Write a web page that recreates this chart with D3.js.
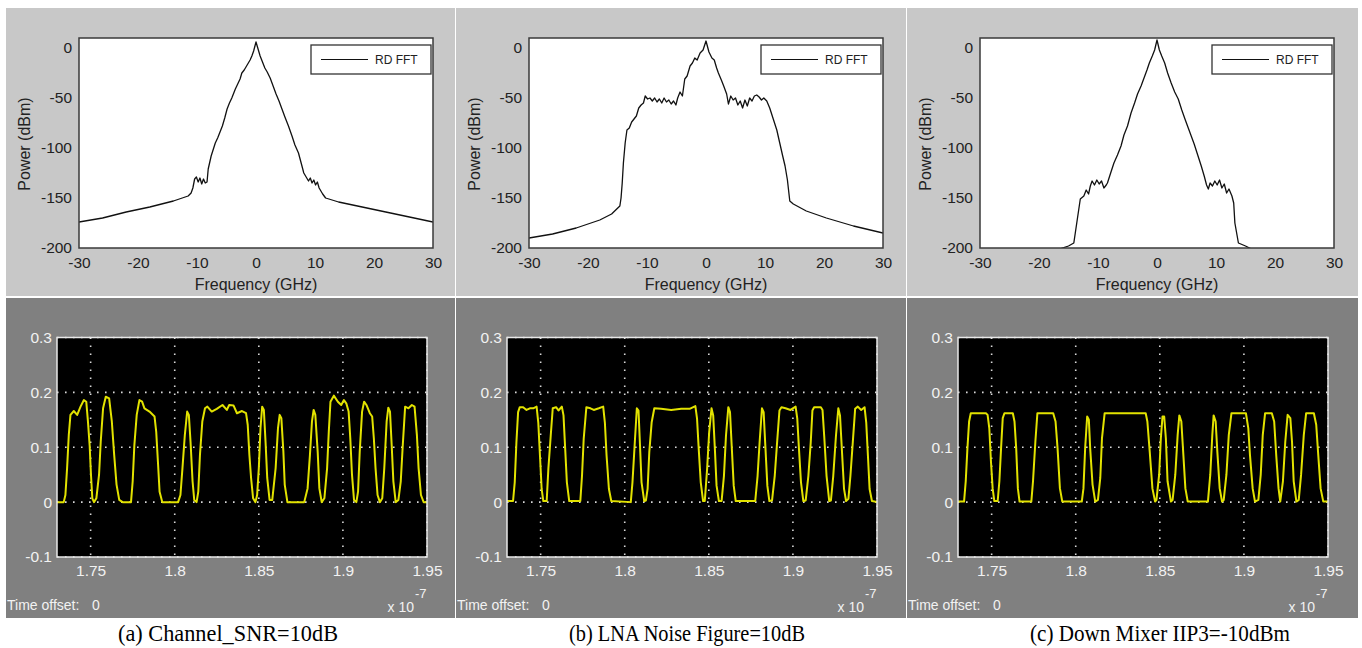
<!DOCTYPE html>
<html>
<head>
<meta charset="utf-8">
<title>RF front-end spectra and eye signals</title>
<script src="https://d3js.org/d3.v7.min.js"></script>
<style>
  body { margin: 0; background: #fff; }
  svg text { font-family: "Liberation Sans", Arial, sans-serif; }
  .caption { font-family: "Liberation Serif", "Times New Roman", serif !important; }
</style>
</head>
<body>
<svg id="fig" width="1362" height="648"></svg>
<script>
// ---- data ----
const freqTicks = [-30, -20, -10, 0, 10, 20, 30];
const powerTicks = [0, -50, -100, -150, -200];
const timeTicks = [1.75, 1.8, 1.85, 1.9, 1.95];
const ampTicks = [0.3, 0.2, 0.1, 0, -0.1];
const captions = ["(a) Channel_SNR=10dB", "(b) LNA Noise Figure=10dB", "(c) Down Mixer IIP3=-10dBm"];
const legendLabel = "RD FFT";

// spectra: [frequency GHz, power dBm]
const spectrumSNR = [[-30,-174],[-26,-170],[-22,-164],[-18,-159],[-14,-153],[-12,-149],[-11.5,-148],[-11,-145],[-10.7,-140],[-10.4,-131],[-10.1,-129],[-9.8,-134],[-9.5,-130],[-9.2,-136],[-8.9,-131],[-8.6,-135],[-8.3,-134],[-8.1,-121],[-7.6,-108],[-6.9,-95],[-6.5,-90],[-6.1,-84],[-5.7,-78],[-5.3,-70],[-4.9,-61],[-4.5,-55],[-4.1,-50],[-3.5,-41],[-3.1,-36],[-2.7,-31],[-2.4,-25],[-2.0,-22],[-1.6,-18],[-1.3,-15],[-1.0,-12],[-0.7,-8],[-0.4,-3],[0,6],[0.4,-2],[0.7,-8],[1.1,-14],[1.5,-20],[1.9,-24],[2.4,-30],[2.9,-38],[3.4,-46],[3.9,-53],[4.4,-61],[4.9,-69],[5.5,-78],[6.1,-88],[6.6,-97],[7.2,-105],[7.7,-116],[8.1,-125],[8.5,-129],[8.9,-133],[9.2,-130],[9.5,-135],[9.8,-132],[10.1,-137],[10.4,-134],[10.7,-140],[11.0,-143],[11.3,-146],[11.8,-150],[14,-154],[18,-159],[22,-164],[26,-169],[30,-174]];
const spectrumLNA = [[-30,-190],[-26,-186],[-22,-180],[-18,-172],[-16,-166],[-14.6,-158],[-14.4,-150],[-14.2,-135],[-14.0,-115],[-13.7,-95],[-13.4,-82],[-13.0,-80],[-12.6,-74],[-12.2,-71],[-11.8,-68],[-11.4,-60],[-11.0,-57],[-10.6,-55],[-10.3,-48],[-9.9,-51],[-9.5,-50],[-9.1,-53],[-8.7,-50],[-8.3,-54],[-7.9,-51],[-7.5,-55],[-7.1,-50],[-6.7,-54],[-6.3,-52],[-5.9,-56],[-5.5,-53],[-5.1,-57],[-4.8,-50],[-4.4,-44],[-4.0,-48],[-3.6,-31],[-3.2,-28],[-2.7,-18],[-2.3,-15],[-1.9,-10],[-1.5,-12],[-1.0,-5],[-0.5,-2],[0,7],[0.5,-4],[1.0,-10],[1.4,-12],[1.8,-20],[2.1,-25],[2.6,-32],[3.0,-38],[3.5,-46],[3.8,-56],[4.2,-48],[4.6,-52],[5.0,-50],[5.4,-57],[5.8,-53],[6.2,-60],[6.6,-52],[7.0,-58],[7.4,-50],[7.8,-53],[8.2,-48],[8.6,-47],[9.0,-49],[9.4,-52],[9.8,-50],[10.3,-53],[10.8,-60],[11.4,-71],[12.0,-82],[12.5,-95],[13.0,-108],[13.4,-118],[13.8,-132],[14.2,-153],[14.8,-156],[17,-163],[20.4,-170],[25,-178],[30,-185]];
const spectrumIIP3 = [[-16.5,-201],[-15,-198],[-14.1,-195],[-13.6,-175],[-13.0,-151],[-12.4,-148],[-12.0,-142],[-11.6,-146],[-11.3,-138],[-11.0,-133],[-10.6,-137],[-10.2,-132],[-9.8,-136],[-9.4,-133],[-9.0,-140],[-8.6,-137],[-8.4,-135],[-7.8,-124],[-7.3,-115],[-6.7,-107],[-6.1,-98],[-5.6,-87],[-5.0,-78],[-4.4,-65],[-3.8,-55],[-3.3,-46],[-2.7,-38],[-2.2,-30],[-1.7,-22],[-1.3,-15],[-0.8,-8],[-0.4,-2],[0,8],[0.4,-2],[0.8,-8],[1.3,-15],[1.8,-25],[2.4,-35],[3.0,-44],[3.6,-51],[4.2,-62],[4.8,-72],[5.3,-80],[5.8,-88],[6.3,-96],[6.9,-107],[7.5,-118],[8.0,-128],[8.4,-137],[8.7,-141],[9.0,-135],[9.4,-138],[9.8,-133],[10.2,-137],[10.6,-132],[11.0,-140],[11.4,-136],[11.8,-145],[12.2,-141],[12.7,-148],[13.0,-155],[13.2,-175],[13.8,-195],[15.0,-198],[16.0,-201]];

// scope traces: [time x1e-7 s, amplitude]
const scopeSNR = [[1.729,0],[1.734,0],[1.735,0.013],[1.736,0.062],[1.737,0.122],[1.738,0.159],[1.740,0.166],[1.742,0.159],[1.744,0.174],[1.746,0.186],[1.7474,0.183],[1.7484,0.147],[1.7494,0.104],[1.7502,0.050],[1.751,0.007],[1.752,0],[1.7534,0.007],
  [1.755,0.050],[1.756,0.110],[1.7574,0.171],[1.759,0.192],[1.761,0.189],[1.7626,0.147],[1.764,0.086],[1.7654,0.032],[1.767,0.004],[1.769,0],[1.774,0],
  [1.775,0.038],[1.776,0.104],[1.7774,0.159],[1.779,0.186],[1.7806,0.183],[1.782,0.171],[1.785,0.165],[1.788,0.156],[1.789,0.128],[1.790,0.074],[1.791,0.019],[1.7926,0],[1.802,0],
  [1.8034,0.013],[1.8046,0.062],[1.806,0.122],[1.8074,0.165],[1.8084,0.159],[1.8094,0.110],[1.8106,0.038],[1.8116,0.004],[1.813,0],[1.814,0.019],
  [1.815,0.086],[1.8164,0.147],[1.818,0.171],[1.8194,0.174],[1.822,0.165],[1.825,0.170],[1.8284,0.177],[1.831,0.168],[1.8324,0.177],[1.835,0.176],[1.837,0.162],[1.840,0.166],[1.8424,0.162],[1.8434,0.141],[1.8444,0.086],[1.8454,0.044],[1.8466,0.007],[1.848,0],[1.849,0.013],
  [1.850,0.062],[1.851,0.135],[1.852,0.174],[1.853,0.168],[1.854,0.110],[1.855,0.044],[1.8564,0.004],[1.858,0.004],[1.860,0.062],[1.8614,0.135],[1.8624,0.159],[1.8634,0.153],[1.8646,0.092],[1.8654,0.032],[1.867,0],[1.877,0],
  [1.879,0.025],[1.8804,0.086],[1.8816,0.147],[1.8826,0.168],[1.8836,0.159],[1.885,0.092],[1.886,0.025],[1.8874,0],[1.889,0.007],
  [1.8906,0.062],[1.8916,0.128],[1.8926,0.183],[1.8946,0.194],[1.897,0.183],[1.899,0.177],[1.9006,0.186],[1.902,0.180],[1.9034,0.165],[1.9044,0.116],[1.9054,0.050],[1.9066,0.004],[1.908,0],[1.909,0.019],
  [1.910,0.092],[1.9114,0.165],[1.9126,0.183],[1.914,0.177],[1.916,0.162],[1.9174,0.156],[1.9184,0.116],[1.9194,0.062],[1.9206,0.013],[1.922,0],[1.9234,0.007],
  [1.9246,0.062],[1.926,0.147],[1.927,0.172],[1.928,0.165],[1.929,0.104],[1.930,0.038],[1.9314,0],[1.933,0.004],[1.9344,0.038],
  [1.9356,0.104],[1.937,0.174],[1.939,0.171],[1.941,0.177],[1.9426,0.174],[1.944,0.122],[1.945,0.062],[1.9464,0.013],[1.948,0],[1.951,0]];
const scopeLNA = [[1.7276,0.002],[1.7336,0.002],[1.7346,0.036],[1.7356,0.109],[1.7366,0.164],[1.7376,0.173],[1.7396,0.173],[1.7416,0.168],[1.7436,0.171],[1.7456,0.171],[1.7476,0.174],[1.7486,0.145],[1.7496,0.085],[1.7506,0.024],[1.7516,0.002],[1.7536,0.002],
  [1.7546,0.061],[1.756,0.121],[1.7572,0.171],[1.7592,0.173],[1.7606,0.167],[1.7626,0.174],[1.7636,0.158],[1.7646,0.097],[1.7656,0.036],[1.767,0.002],[1.7736,0.002],
  [1.7746,0.048],[1.7756,0.115],[1.7772,0.173],[1.7796,0.171],[1.7816,0.168],[1.7846,0.171],[1.7872,0.174],[1.7882,0.145],[1.7892,0.085],[1.7906,0.024],[1.792,0.002],[1.8036,0],
  [1.8046,0.036],[1.806,0.109],[1.8072,0.171],[1.8082,0.167],[1.809,0.109],[1.81,0.036],[1.8116,0.002],[1.8126,0.003],[1.8136,0.024],
  [1.8146,0.091],[1.816,0.145],[1.8176,0.171],[1.8216,0.170],[1.8276,0.168],[1.8336,0.170],[1.8386,0.170],[1.842,0.175],[1.843,0.152],[1.844,0.097],[1.8452,0.036],[1.8466,0.002],[1.8476,0.002],
  [1.849,0.061],[1.8502,0.127],[1.8516,0.171],[1.8526,0.158],[1.8536,0.097],[1.8546,0.030],[1.856,0.002],[1.8576,0.002],[1.859,0.048],[1.8602,0.121],[1.8616,0.173],[1.8626,0.164],[1.8636,0.103],[1.8648,0.030],[1.866,0.002],[1.8776,0.002],
  [1.879,0.048],[1.8802,0.109],[1.8816,0.171],[1.8826,0.164],[1.8836,0.103],[1.8848,0.030],[1.886,0.002],[1.8876,0.003],
  [1.8892,0.048],[1.8906,0.109],[1.892,0.167],[1.8932,0.173],[1.8956,0.171],[1.8986,0.168],[1.9016,0.174],[1.9026,0.152],[1.9036,0.097],[1.9048,0.036],[1.9062,0.002],[1.9076,0.003],
  [1.9092,0.048],[1.9106,0.109],[1.9116,0.167],[1.9126,0.173],[1.9166,0.173],[1.9176,0.168],[1.9186,0.121],[1.92,0.048],[1.9216,0.002],[1.9226,0.003],
  [1.924,0.048],[1.9256,0.121],[1.927,0.171],[1.928,0.158],[1.9292,0.091],[1.9304,0.024],[1.9316,0.002],[1.933,0.006],
  [1.9342,0.048],[1.9356,0.109],[1.937,0.170],[1.9386,0.174],[1.9406,0.168],[1.9426,0.173],[1.9436,0.145],[1.9446,0.085],[1.9456,0.024],[1.947,0.002],[1.9506,0]];
const scopeIIP3 = [[1.729,0.001],[1.7336,0.001],[1.7346,0.038],[1.7356,0.098],[1.7366,0.147],[1.7376,0.162],[1.7466,0.162],[1.7476,0.159],[1.7486,0.135],[1.7496,0.074],[1.7506,0.025],[1.7516,0.002],[1.7536,0.002],
  [1.7546,0.038],[1.7556,0.098],[1.7566,0.153],[1.7576,0.162],[1.7626,0.162],[1.7636,0.147],[1.7646,0.098],[1.7656,0.025],[1.7666,0.001],[1.7736,0.001],
  [1.7746,0.038],[1.776,0.110],[1.7772,0.162],[1.7866,0.162],[1.788,0.147],[1.7892,0.098],[1.7906,0.025],[1.792,0.001],[1.8036,0.001],
  [1.8046,0.025],[1.8056,0.098],[1.8068,0.156],[1.8078,0.150],[1.8086,0.098],[1.81,0.032],[1.8116,0.001],[1.8132,0.004],
  [1.8146,0.044],[1.8156,0.116],[1.8172,0.162],[1.8416,0.162],[1.8426,0.147],[1.844,0.092],[1.8456,0.025],[1.8472,0.001],[1.848,0.004],
  [1.8496,0.050],[1.8506,0.116],[1.8516,0.156],[1.8526,0.156],[1.8536,0.116],[1.8546,0.038],[1.8566,0.001],[1.8576,0.004],[1.8592,0.050],[1.8606,0.122],[1.8616,0.158],[1.8628,0.147],[1.864,0.086],[1.8652,0.025],[1.8666,0.001],[1.8786,0.001],
  [1.88,0.050],[1.8812,0.122],[1.882,0.158],[1.8832,0.147],[1.8842,0.092],[1.8856,0.025],[1.887,0.001],[1.888,0.004],
  [1.8896,0.050],[1.891,0.122],[1.8926,0.162],[1.9012,0.162],[1.9026,0.135],[1.9036,0.086],[1.9052,0.025],[1.9066,0.001],[1.9086,0.004],
  [1.91,0.050],[1.9112,0.122],[1.9126,0.162],[1.9166,0.162],[1.918,0.147],[1.9192,0.086],[1.9206,0.025],[1.9216,0.001],
  [1.9232,0.038],[1.9246,0.110],[1.926,0.159],[1.9276,0.153],[1.9286,0.110],[1.9296,0.038],[1.9312,0.001],[1.9326,0.004],
  [1.934,0.050],[1.9356,0.122],[1.937,0.162],[1.9416,0.162],[1.943,0.141],[1.9442,0.086],[1.9456,0.025],[1.9472,0.001],[1.951,0.001]];

// ---- layout ----
const svg = d3.select("#fig");
const panelLeft = [6, 456, 907];
const panelRight = [455, 906, 1358];
const captionX = [228, 687, 1160];
const captionW = [220, 236, 260];
const spectra = [spectrumSNR, spectrumLNA, spectrumIIP3];
const scopes = [scopeSNR, scopeLNA, scopeIIP3];

const fw = 354, fh = 210;   // spectrum plot box
const sw = 370, sh = 219.5; // scope plot box

svg.append("rect").attr("width", 1362).attr("height", 648).attr("fill", "#fff");

panelLeft.forEach((px, i) => {
  const pw = panelRight[i] - px;

  // ===== top: spectrum =====
  svg.append("rect").attr("x", px).attr("y", 8).attr("width", pw).attr("height", 288)
    .attr("fill", "#c8c8c8");

  const g = svg.append("g").attr("transform", `translate(${px + 73},38)`);
  const x = d3.scaleLinear().domain([-30, 30]).range([0, fw]);
  const y = d3.scaleLinear().domain([-200, 10]).range([fh, 0]);

  g.append("rect").attr("width", fw).attr("height", fh).attr("fill", "#fff");
  g.append("clipPath").attr("id", "clipT" + i)
    .append("rect").attr("width", fw).attr("height", fh);
  g.append("path")
    .datum(spectra[i])
    .attr("clip-path", `url(#clipT${i})`)
    .attr("fill", "none")
    .attr("stroke", "#111")
    .attr("stroke-width", 1.3)
    .attr("stroke-linejoin", "round")
    .attr("d", d3.line().x(d => x(d[0])).y(d => y(d[1])));

  g.append("g").attr("transform", `translate(0,${fh})`)
    .call(d3.axisBottom(x).tickValues(freqTicks).tickSize(0).tickPadding(9).tickFormat(d => String(d)))
    .call(a => a.select(".domain").remove())
    .selectAll("text").attr("fill", "#222").style("font-size", "15.5px");
  g.append("g")
    .call(d3.axisLeft(y).tickValues(powerTicks).tickSize(0).tickPadding(7).tickFormat(d => String(d)))
    .call(a => a.select(".domain").remove())
    .selectAll("text").attr("fill", "#222").style("font-size", "15.5px");

  g.append("rect").attr("width", fw).attr("height", fh)
    .attr("fill", "none").attr("stroke", "#3a3a3a").attr("stroke-width", 1.5);

  // legend
  const lg = g.append("g").attr("transform", `translate(${fw - 122},7)`);
  lg.append("rect").attr("width", 120).attr("height", 29)
    .attr("fill", "#fff").attr("stroke", "#333").attr("stroke-width", 1.3);
  lg.append("line").attr("x1", 10).attr("x2", 57).attr("y1", 14.5).attr("y2", 14.5)
    .attr("stroke", "#111").attr("stroke-width", 1.2);
  lg.append("text").attr("x", 64).attr("y", 19).attr("fill", "#222")
    .style("font-size", "12px").text(legendLabel);

  g.append("text").attr("x", fw / 2).attr("y", 252).attr("text-anchor", "middle")
    .attr("fill", "#222").style("font-size", "16px").text("Frequency (GHz)");
  g.append("text").attr("transform", `translate(-49,${fh / 2 + 1}) rotate(-90)`)
    .attr("text-anchor", "middle").attr("fill", "#222").style("font-size", "16px")
    .text("Power (dBm)");

  // ===== bottom: scope =====
  svg.append("rect").attr("x", px).attr("y", 298).attr("width", pw).attr("height", 320)
    .attr("fill", "#808080");

  const b = svg.append("g").attr("transform", `translate(${px + 51},337.5)`);
  const tx = d3.scaleLinear().domain([1.73, 1.95]).range([0, sw]);
  const ty = d3.scaleLinear().domain([-0.1, 0.3]).range([sh, 0]);

  b.append("rect").attr("width", sw).attr("height", sh).attr("fill", "#000");

  // dotted grid
  b.selectAll("line.vg").data(timeTicks).join("line").attr("class", "vg")
    .attr("x1", d => tx(d)).attr("x2", d => tx(d)).attr("y1", 0).attr("y2", sh)
    .attr("stroke", "#d8d8d8").attr("stroke-width", 1.6).attr("stroke-dasharray", "1.6,6.4");
  b.selectAll("line.hg").data(ampTicks).join("line").attr("class", "hg")
    .attr("y1", d => ty(d)).attr("y2", d => ty(d)).attr("x1", 0).attr("x2", sw)
    .attr("stroke", "#d8d8d8").attr("stroke-width", 1.6).attr("stroke-dasharray", "1.6,6.4");

  b.append("clipPath").attr("id", "clipB" + i)
    .append("rect").attr("width", sw).attr("height", sh);
  b.append("path")
    .datum(scopes[i])
    .attr("clip-path", `url(#clipB${i})`)
    .attr("fill", "none")
    .attr("stroke", "#e2e200")
    .attr("stroke-width", 2)
    .attr("stroke-linejoin", "round")
    .attr("d", d3.line().x(d => tx(d[0])).y(d => ty(d[1])));

  b.append("rect").attr("width", sw).attr("height", sh)
    .attr("fill", "none").attr("stroke", "#e8e8e8").attr("stroke-width", 1.5);

  b.append("g").attr("transform", `translate(0,${sh})`)
    .call(d3.axisBottom(tx).tickValues(timeTicks).tickSize(0).tickPadding(8).tickFormat(d => String(d)))
    .call(a => a.select(".domain").remove())
    .selectAll("text").attr("fill", "#f2f2f2").style("font-size", "15.5px");
  b.append("g")
    .call(d3.axisLeft(ty).tickValues(ampTicks).tickSize(0).tickPadding(5).tickFormat(d => String(d)))
    .call(a => a.select(".domain").remove())
    .selectAll("text").attr("fill", "#f2f2f2").style("font-size", "15.5px");

  svg.append("text").attr("x", px + 1).attr("y", 610).attr("fill", "#f2f2f2")
    .style("font-size", "14px").text("Time offset:");
  svg.append("text").attr("x", px + 86).attr("y", 610).attr("fill", "#f2f2f2")
    .style("font-size", "14px").text("0");
  svg.append("text").attr("x", px + 51 + sw - 13).attr("y", 612)
    .attr("text-anchor", "end").attr("fill", "#f2f2f2").style("font-size", "14px")
    .text("x 10");
  svg.append("text").attr("x", px + 51 + sw - 12).attr("y", 598).attr("fill", "#f2f2f2")
    .style("font-size", "13px").text("-7");

  // caption
  svg.append("text").attr("class", "caption").attr("x", captionX[i]).attr("y", 641)
    .attr("text-anchor", "middle").attr("fill", "#000").style("font-size", "23px")
    .attr("textLength", captionW[i]).attr("lengthAdjust", "spacingAndGlyphs")
    .text(captions[i]);
});
</script>
</body>
</html>
